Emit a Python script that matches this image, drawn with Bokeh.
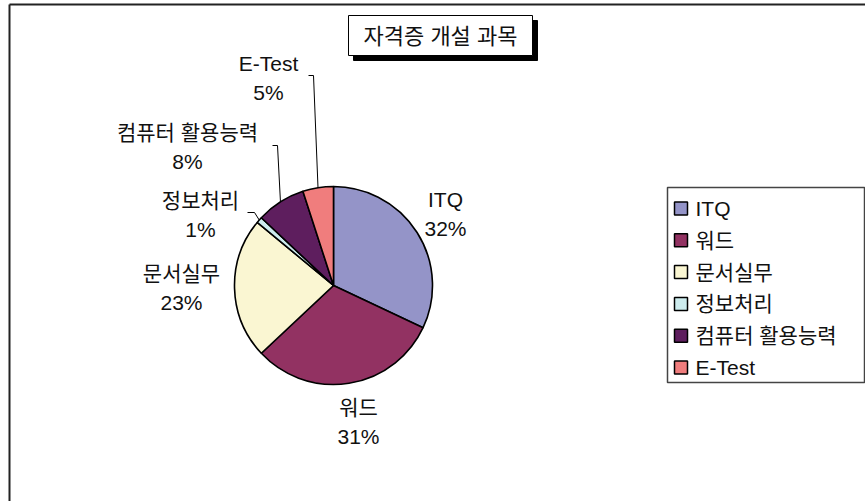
import math
from bokeh.plotting import figure
from bokeh.models import Range1d, ColumnDataSource
from bokeh.core.properties import value
from bokeh.embed import file_html
from bokeh.resources import INLINE

# ---- data ----
categories = ["ITQ", "워드", "문서실무", "정보처리", "컴퓨터 활용능력", "E-Test"]
shares = [32, 31, 23, 1, 8, 5]
colors = ["#9494C8", "#923262", "#FAF6D2", "#CDECEE", "#5E1E5E", "#F07D7D"]
title_text = "자격증 개설 과목"

# ---- layout (page pixel coordinates) ----
W, H = 865, 501
FONT = "Liberation Sans, Noto Sans CJK KR"
FS = "21px"

def dx(xp):
    return xp

def dy(yp):
    return H - yp

cx, cy, R = dx(333), dy(285), 99
# label anchor positions (name line centre, page px)
label_pos = [(445, 199), (358, 407), (181, 273), (200, 200), (187, 132), (268, 63)]
# leader lines: elbow points on label side (page px) or None
leaders = [None, None, None, [(247, 212), (254, 212)], [(272, 145), (277, 145)], [(308, 75), (313, 75)]]

p = figure(width=W, height=H, x_range=Range1d(0, W), y_range=Range1d(0, H),
           x_axis_type=None, y_axis_type=None, min_border=0,
           output_backend="svg", toolbar_location=None)
p.grid.visible = False
p.outline_line_color = None
p.background_fill_color = "white"
p.border_fill_color = "white"

# chart border (left and top)
p.line([dx(9), dx(9)], [0, dy(4)], line_color="#222222", line_width=2)
p.line([dx(9), W], [dy(4), dy(4)], line_color="#222222", line_width=2)

# pie
total = sum(shares)
cum = [0]
for s in shares:
    cum.append(cum[-1] + s)
starts = [math.pi / 2 - 2 * math.pi * cum[i + 1] / total for i in range(len(shares))]
ends = [math.pi / 2 - 2 * math.pi * cum[i] / total for i in range(len(shares))]
src = ColumnDataSource(dict(x=[cx] * len(shares), y=[cy] * len(shares),
                            start=starts, end=ends, color=colors))
p.wedge(x="x", y="y", radius=R, start_angle="start", end_angle="end",
        fill_color="color", line_color="black", line_width=1.6, source=src)

# leader lines
for i, pts in enumerate(leaders):
    if pts is None:
        continue
    mid = 2 * math.pi * (cum[i] + shares[i] / 2) / total
    ex = cx + R * math.sin(mid)
    ey = cy + R * math.cos(mid)
    xs = [dx(a) for a, b in pts] + [ex]
    ys = [dy(b) for a, b in pts] + [ey]
    p.line(xs, ys, line_color="black", line_width=1)

# slice labels
for i, (lx, ly) in enumerate(label_pos):
    pct = f"{round(shares[i] / total * 100)}%"
    p.text(x=[dx(lx)], y=[dy(ly)], text=[categories[i]], text_align="center",
           text_baseline="middle", text_font=value(FONT), text_font_size=FS,
           text_color="#111111")
    p.text(x=[dx(lx)], y=[dy(ly + 29)], text=[pct], text_align="center",
           text_baseline="middle", text_font=value(FONT), text_font_size=FS,
           text_color="#111111")

# title box with shadow
tx0, tx1, ty0, ty1 = 348, 532, 15, 55
p.quad(left=[dx(tx0 + 5)], right=[dx(tx1 + 5)], bottom=[dy(ty1 + 5)], top=[dy(ty0 + 5)],
       fill_color="black", line_color="black")
p.quad(left=[dx(tx0)], right=[dx(tx1)], bottom=[dy(ty1)], top=[dy(ty0)],
       fill_color="white", line_color="black", line_width=1)
p.text(x=[dx((tx0 + tx1) / 2)], y=[dy(36)], text=[title_text], text_align="center",
       text_baseline="middle", text_font=value(FONT), text_font_size="22px",
       text_color="#111111")

# legend
lx0, lx1, ly0, ly1 = 667, 864, 187, 382
p.quad(left=[dx(lx0)], right=[dx(lx1)], bottom=[dy(ly1)], top=[dy(ly0)],
       fill_color="white", line_color="#444444", line_width=1.5)
for i, cat in enumerate(categories):
    yc = 208 + i * 31.8
    p.quad(left=[dx(674)], right=[dx(687)], bottom=[dy(yc + 6.5)], top=[dy(yc - 6.5)],
           fill_color=colors[i], line_color="black", line_width=1.5)
    p.text(x=[dx(695)], y=[dy(yc)], text=[cat], text_align="left",
           text_baseline="middle", text_font=value(FONT), text_font_size=FS,
           text_color="#111111")

open("out.html", "w").write(file_html(p, INLINE))
